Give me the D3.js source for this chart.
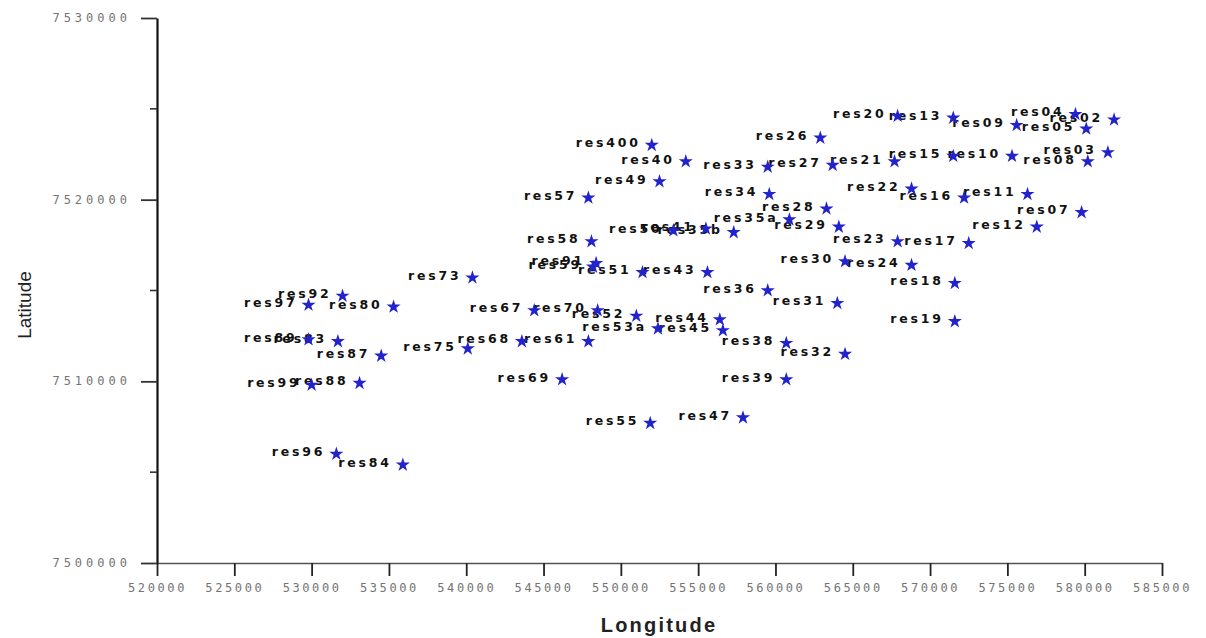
<!DOCTYPE html>
<html>
<head>
<meta charset="utf-8">
<script src="https://cdn.jsdelivr.net/npm/d3@7/dist/d3.min.js"></script>
<style>
  html, body { margin: 0; padding: 0; background: #ffffff; }
  svg { display: block; }
</style>
</head>
<body>
<svg id="chart" width="1206" height="638"></svg>
<script>
// Reservoir sites: name, easting (Longitude), northing (Latitude)
const sites = ["res20","res13","res04","res02","res09","res05","res26","res400","res40","res49",
  "res57","res33","res27","res21","res15","res10","res08","res03","res34","res22",
  "res16","res11","res07","res12","res28","res35a","res29","res23","res17","res58",
  "res50","res41","res35b","res59","res91","res51","res43","res73","res30","res24",
  "res18","res36","res31","res92","res97","res80","res67","res70","res52","res44",
  "res45","res53a","res19","res89","res83","res68","res61","res38","res75","res87",
  "res32","res69","res39","res99","res88","res55","res47","res96","res84"];
const eastings = [567900,571500,579400,581900,575600,580100,562900,552000,554200,552500,
  547900,559500,563700,567700,571500,575300,580200,581500,559600,568800,
  572200,576300,579800,576900,563300,560900,564100,567900,572500,548100,
  553400,555500,557300,548200,548400,551400,555600,540400,564500,568800,
  571600,559500,564000,532000,529800,535300,544400,548500,551000,556400,
  556600,552400,571600,529800,531700,543600,547900,560700,540100,534500,
  564500,546200,560700,530000,533100,551900,557900,531600,535900];
const northings = [7524600,7524500,7524700,7524400,7524100,7523900,7523400,7523000,7522100,7521000,
  7520100,7521800,7521900,7522100,7522400,7522400,7522100,7522600,7520300,7520600,
  7520100,7520300,7519300,7518500,7519500,7518900,7518500,7517700,7517600,7517700,
  7518300,7518400,7518200,7516300,7516500,7516000,7516000,7515700,7516600,7516400,
  7515400,7515000,7514300,7514700,7514200,7514100,7513900,7513900,7513600,7513400,
  7512800,7512900,7513300,7512300,7512200,7512200,7512200,7512100,7511800,7511400,
  7511500,7510100,7510100,7509800,7509900,7507700,7508000,7506000,7505400];

const xTicks = [520000,525000,530000,535000,540000,545000,550000,555000,560000,565000,570000,575000,580000,585000];
const yTicks = [7500000,7510000,7520000,7530000];
const yMinorTicks = [7505000,7515000,7525000];

const xTitle = "Longitude";
const yTitle = "Latitude";

const svg = d3.select("#chart");

const x = d3.scaleLinear().domain([520000, 585000]).range([157, 1162]);
const y = d3.scaleLinear().domain([7500000, 7530000]).range([563, 18]);

const tickFont = "'DejaVu Sans Mono', monospace";

// x axis
const xAxis = svg.append("g")
  .attr("transform", `translate(0,${y(7500000)})`)
  .call(d3.axisBottom(x).tickValues(xTicks).tickFormat(d3.format("d")).tickSize(13).tickSizeOuter(0));
xAxis.select(".domain").attr("stroke", "#555").attr("stroke-width", 1.6);
xAxis.selectAll(".tick line").attr("stroke", "#222").attr("stroke-width", 1.8);
xAxis.selectAll(".tick text")
  .attr("y", 20)
  .attr("fill", "#747474")
  .style("font-family", tickFont)
  .style("font-size", "12px")
  .style("letter-spacing", "2.6px");

// y axis
const yAxis = svg.append("g")
  .attr("transform", `translate(${x(520000)},0)`)
  .call(d3.axisLeft(y).tickValues(yTicks).tickFormat(d3.format("d")).tickSize(16).tickSizeOuter(0));
yAxis.select(".domain").attr("stroke", "#111").attr("stroke-width", 2.2);
yAxis.selectAll(".tick line").attr("stroke", "#333").attr("stroke-width", 1.8);
yAxis.selectAll(".tick text")
  .attr("x", -26)
  .attr("dy", "0.3em")
  .attr("fill", "#747474")
  .style("font-family", tickFont)
  .style("font-size", "12px")
  .style("letter-spacing", "4px");

yAxis.selectAll(".minor")
  .data(yMinorTicks)
  .join("line")
  .attr("class", "minor")
  .attr("x1", -7).attr("x2", 0)
  .attr("y1", d => y(d)).attr("y2", d => y(d))
  .attr("stroke", "#333").attr("stroke-width", 1.6);

// axis titles
svg.append("text")
  .attr("x", 659).attr("y", 632)
  .attr("text-anchor", "middle")
  .attr("fill", "#222")
  .style("font-family", "'Liberation Sans', Arial, sans-serif")
  .style("font-weight", "bold")
  .style("font-size", "20px")
  .style("letter-spacing", "2.2px")
  .text(xTitle);

svg.append("text")
  .attr("transform", "translate(31,305) rotate(-90)")
  .attr("text-anchor", "middle")
  .attr("fill", "#222")
  .style("font-family", "'Liberation Sans', Arial, sans-serif")
  .style("font-size", "19px")
  .text(yTitle);

// sites
const pts = sites.map((name, i) => ({ name, e: eastings[i], n: northings[i] }));
const star = d3.symbol().type(d3.symbolStar).size(62);

const g = svg.append("g");
g.selectAll("text.lbl")
  .data(pts)
  .join("text")
  .attr("class", "lbl")
  .attr("x", d => x(d.e) - 11)
  .attr("y", d => y(d.n) + 2)
  .attr("text-anchor", "end")
  .attr("fill", "#111")
  .style("font-family", "'DejaVu Sans', sans-serif")
  .style("font-weight", "bold")
  .style("font-size", "12.5px")
  .style("letter-spacing", "2.8px")
  .text(d => d.name);

g.selectAll("path.site")
  .data(pts)
  .join("path")
  .attr("class", "site")
  .attr("transform", d => `translate(${x(d.e)},${y(d.n)})`)
  .attr("d", star)
  .attr("fill", "#2323cc");
</script>
</body>
</html>
